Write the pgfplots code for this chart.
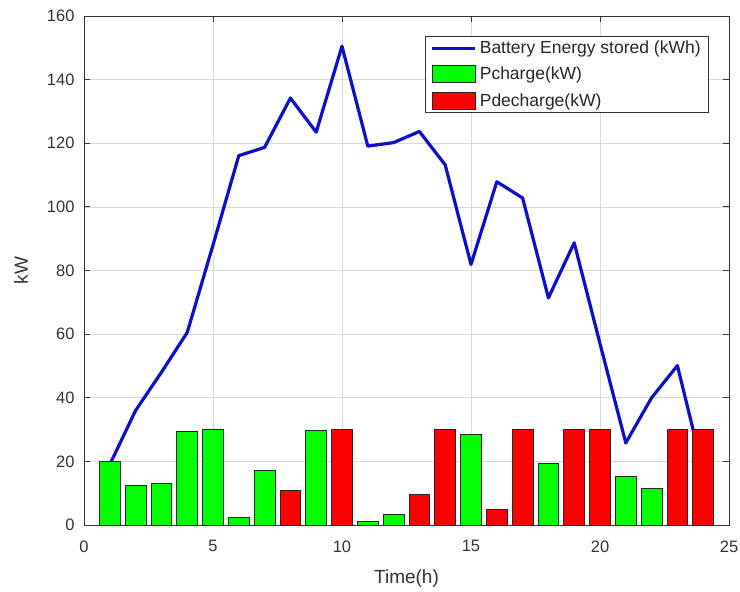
\documentclass[border=0pt]{standalone}
\usepackage{fontspec}
\setmainfont{Liberation Sans}
\usepackage{pgfplots}
\pgfplotsset{compat=1.18}
\definecolor{mblue}{rgb}{0.05,0.05,0.8}
\definecolor{mgreen}{rgb}{0,1,0}
\definecolor{mred}{rgb}{1,0,0}
\pgfplotsset{
 linelegend/.style={legend image code/.code={\draw[##1] (0bp,0bp) -- (43bp,0bp);}},
 barlegend/.style={legend image code/.code={\draw[##1] (0bp,-8.5bp) rectangle (43bp,8.5bp);}},
}
\begin{document}
\begin{tikzpicture}
\begin{axis}[
 name=ax,
 scale only axis, width=645bp, height=509bp,
 xmin=0, xmax=25, ymin=0, ymax=160,
 xtick={0,5,...,25}, ytick={0,20,...,160},
 grid=major, major grid style={draw=black!15, line width=0.6bp},
 tick align=inside, major tick length=6bp,
 every tick/.style={black!80, line width=0.8bp},
 axis line style={black!80, line width=0.9bp},
 /pgf/number format/assume math mode=true,
 tick label style={font=\fontsize{16.5bp}{18bp}\selectfont, text=black!80},
 xticklabel style={yshift=-12bp},
 yticklabel style={xshift=-6bp},
 xlabel={Time(h)}, ylabel={kW},
 label style={font=\fontsize{19bp}{22bp}\selectfont, text=black!80},
 xlabel style={at={(axis description cs:0.5,-0.1061)}, anchor=center},
 ylabel style={at={(axis description cs:-0.0977,0.5)}, anchor=center},
 legend style={at={(axis description cs:0.969,0.9613)}, anchor=north east,
   draw=black!80, line width=0.8bp, font=\fontsize{17.5bp}{20bp}\selectfont,
   text=black!85, inner xsep=5bp, inner ysep=3.5bp, row sep=8.5bp,
   nodes={inner ysep=1.5bp, inner xsep=3bp}},
 legend cell align=left,
]
\addplot[color=mblue, line width=3.2bp, line join=round, linelegend]
 coordinates {(1,19) (2,36) (3,48) (4,60.5) (5,88) (6,116.1) (7,118.7) (8,134.2)
  (9,123.5) (10,150.5) (11,119.1) (12,120.2) (13,123.7) (14,113.2) (15,81.9)
  (16,107.9) (17,102.8) (18,71.4) (19,88.7) (20,57) (21,25.8) (22,40) (23,50.1) (24,17)};
\addlegendentry{Battery Energy stored (kWh)}
\addplot[ybar, bar width=0.8, bar shift=0pt, fill=mgreen, draw=black!85, line width=0.8bp, barlegend]
 coordinates {(1,20) (2,12.4) (3,13.2) (4,29.3) (5,30.2) (6,2.5) (7,17.1) (9,29.8)
  (11,1.1) (12,3.4) (15,28.5) (18,19.5) (21,15.2) (22,11.5)};
\addlegendentry{Pcharge(kW)}
\addplot[ybar, bar width=0.8, bar shift=0pt, fill=mred, draw=black!85, line width=0.8bp, barlegend]
 coordinates {(8,11) (10,30) (13,9.5) (14,30) (16,4.8) (17,30) (19,30) (20,30) (23,30) (24,30)};
\addlegendentry{Pdecharge(kW)}
\end{axis}
\pgfresetboundingbox
\path ([xshift=-84bp,yshift=-67bp]ax.south west) rectangle ([xshift=11bp,yshift=16bp]ax.north east);
\end{tikzpicture}
\end{document}
